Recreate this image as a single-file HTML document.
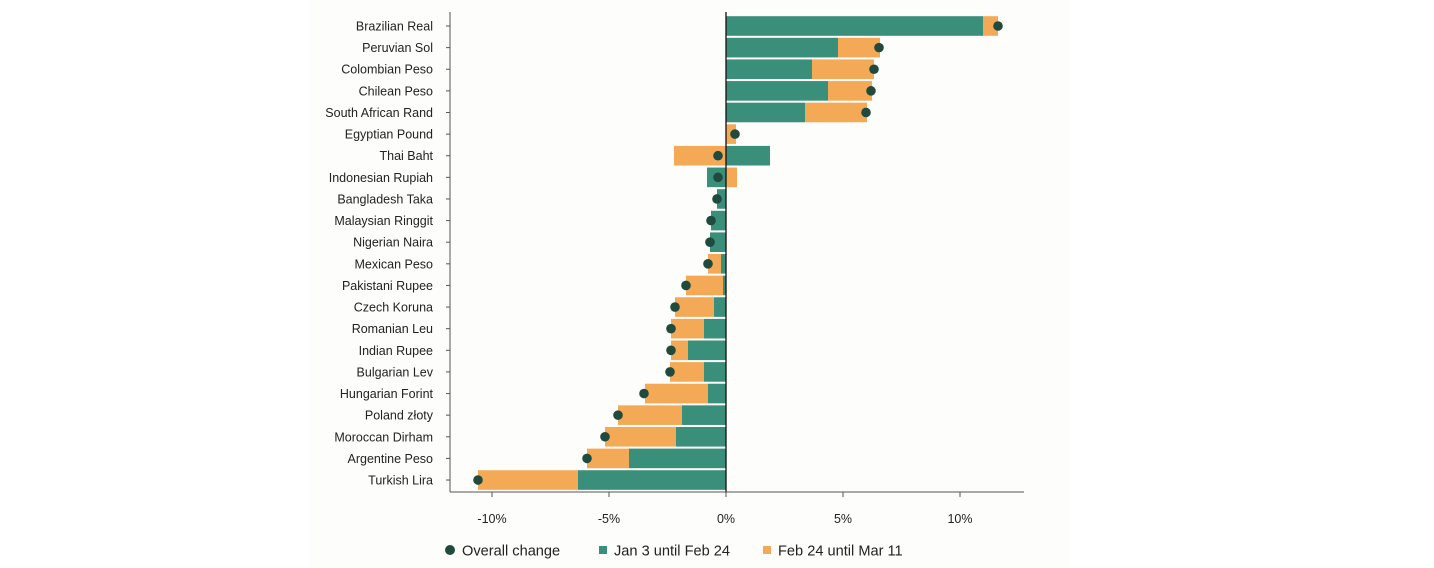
<!DOCTYPE html>
<html><head><meta charset="utf-8"><style>
html,body{margin:0;padding:0;background:#fff}
svg{display:block}
text{font-family:"Liberation Sans",Arial,sans-serif;fill:#222}
</style></head><body>
<svg width="1434" height="568" viewBox="0 0 1434 568" xmlns="http://www.w3.org/2000/svg">
<rect x="0" y="0" width="1434" height="568" fill="#fff"/>
<rect x="310" y="0" width="760" height="568" fill="#fdfdfb"/>
<g id="bars"></g>
<line x1="726" y1="12" x2="726" y2="492" stroke="#111" stroke-width="1.3"/>
<line x1="450" y1="12" x2="450" y2="492" stroke="#555" stroke-width="1"/>
<line x1="450" y1="492" x2="1024" y2="492" stroke="#555" stroke-width="1"/>
<g font-size="12.5" text-anchor="middle">
<text x="492" y="523">-10%</text><text x="609" y="523">-5%</text><text x="726" y="523">0%</text><text x="843" y="523">5%</text><text x="960" y="523">10%</text>
</g>
<g stroke="#555"><line x1="492" y1="492" x2="492" y2="497"/><line x1="609" y1="492" x2="609" y2="497"/><line x1="726" y1="492" x2="726" y2="497"/><line x1="843" y1="492" x2="843" y2="497"/><line x1="960" y1="492" x2="960" y2="497"/></g>
<g font-size="14.6">
<circle cx="450" cy="550" r="5" fill="#1f4a3d"/><text x="462" y="555.5">Overall change</text>
<rect x="599" y="546" width="8" height="8" fill="#3a8f7a"/><text x="614" y="555.5">Jan 3 until Feb 24</text>
<rect x="763" y="546" width="8" height="8" fill="#f4a957"/><text x="778" y="555.5">Feb 24 until Mar 11</text>
</g>
<g id="labels" font-size="12.5" text-anchor="end"></g>
<script>
var d=[
["Brazilian Real",726,983,983,998,998],
["Peruvian Sol",726,838,838,880,879],
["Colombian Peso",726,812,812,874,874],
["Chilean Peso",726,828,828,872,871],
["South African Rand",726,805,805,867,866],
["Egyptian Pound",0,0,726,736,735],
["Thai Baht",726,770,674,726,718],
["Indonesian Rupiah",707,726,726,737,718],
["Bangladesh Taka",717,726,0,0,717],
["Malaysian Ringgit",711,726,0,0,711],
["Nigerian Naira",710,726,0,0,710],
["Mexican Peso",721,726,708,721,708],
["Pakistani Rupee",723,726,686,723,686],
["Czech Koruna",714,726,675,714,675],
["Romanian Leu",704,726,671,704,671],
["Indian Rupee",688,726,671,688,671],
["Bulgarian Lev",704,726,670,704,670],
["Hungarian Forint",708,726,645,708,644],
["Poland złoty",682,726,618,682,618],
["Moroccan Dirham",676,726,605,676,605],
["Argentine Peso",629,726,587,629,587],
["Turkish Lira",578,726,478,578,478]];
var ns="http://www.w3.org/2000/svg",b=document.getElementById("bars"),l=document.getElementById("labels");
function el(t,a,p){var e=document.createElementNS(ns,t);for(var k in a)e.setAttribute(k,a[k]);p.appendChild(e);return e;}
d.forEach(function(r,i){var y=26+i*21.62;
if(r[2]>r[1])el("rect",{x:r[1],y:y-9.8,width:r[2]-r[1],height:19.6,fill:"#3a8f7a"},b);
if(r[4]>r[3])el("rect",{x:r[3],y:y-9.8,width:r[4]-r[3],height:19.6,fill:"#f4a957"},b);
el("circle",{cx:r[5],cy:y,r:4.8,fill:"#1f4a3d"},b);
el("line",{x1:446,y1:y,x2:450,y2:y,stroke:"#555"},b);
var t=el("text",{x:433,y:y+4.5},l);t.textContent=r[0];});
</script>
</svg>
</body></html>
